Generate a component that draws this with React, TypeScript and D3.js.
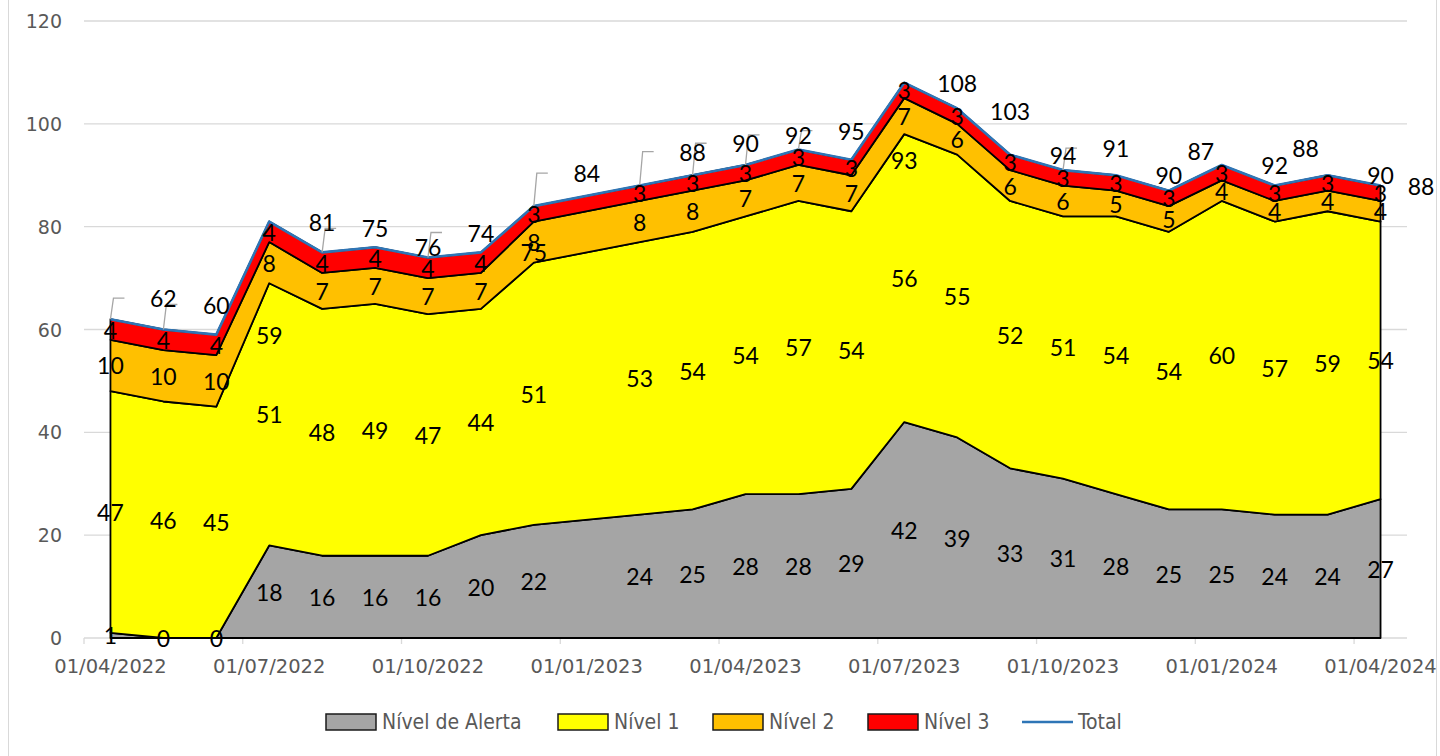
import React from "react";
import * as d3 from "d3";

const svgWidth = 1440;
const svgHeight = 756;

const margin = { top: 21, left: 84, right: 33, bottom: 118 };
const innerBottom = svgHeight - margin.bottom;
const innerRight = svgWidth - margin.right;

// data (monthly; January 2023 has no entry)
const months = [
    "2022-04-01", "2022-05-01", "2022-06-01", "2022-07-01", "2022-08-01",
    "2022-09-01", "2022-10-01", "2022-11-01", "2022-12-01", "2023-02-01",
    "2023-03-01", "2023-04-01", "2023-05-01", "2023-06-01", "2023-07-01",
    "2023-08-01", "2023-09-01", "2023-10-01", "2023-11-01", "2023-12-01",
    "2024-01-01", "2024-02-01", "2024-03-01", "2024-04-01",
];
const nivelAlerta = [1, 0, 0, 18, 16, 16, 16, 20, 22, 24, 25, 28, 28, 29, 42, 39, 33, 31, 28, 25, 25, 24, 24, 27];
const nivel1 = [47, 46, 45, 51, 48, 49, 47, 44, 51, 53, 54, 54, 57, 54, 56, 55, 52, 51, 54, 54, 60, 57, 59, 54];
const nivel2 = [10, 10, 10, 8, 7, 7, 7, 7, 8, 8, 8, 7, 7, 7, 7, 6, 6, 6, 5, 5, 4, 4, 4, 4];
const nivel3 = [4, 4, 4, 4, 4, 4, 4, 4, 3, 3, 3, 3, 3, 3, 3, 3, 3, 3, 3, 3, 3, 3, 3, 3];
const total = [62, 60, 59, 81, 75, 76, 74, 75, 84, 88, 90, 92, 95, 93, 108, 103, 94, 91, 90, 87, 92, 88, 90, 88];
const yTicks = [0, 20, 40, 60, 80, 100, 120];

const seriesNames = ["Nível de Alerta", "Nível 1", "Nível 2", "Nível 3"];
const seriesValues = [nivelAlerta, nivel1, nivel2, nivel3];
const colors = ["#A5A5A5", "#FFFF00", "#FFC000", "#FF0000"];
const totalColor = "#2E75B6";

// manual label nudges of the total labels (px), as moved in the original
const totalDy = [-21, -25, 0, 0, -24, 0, -25, 0, -33, -34, -32, -30, -19, 0, 0, 3, 0, -22, 0, -40, 0, -38, 0, 0];
const totalDx = [0, 0, 0, 0, 0, 0, 0, 0, 0, 0, 0, 0, 0, 0, 0, 0, 0, 0, 0, -21, 0, -22, 0, 0];

const parse = d3.timeParse("%Y-%m-%d");
const start = parse(months[0]);
const monthIndex = months.map((m) => d3.timeMonth.count(start, parse(m)));
const nMonths = 25;

const rows = months.map((m, i) => {
    const r = { mi: monthIndex[i] };
    seriesNames.forEach((s, k) => (r[s] = seriesValues[k][i]));
    return r;
});

const stacked = d3.stack().keys(seriesNames)(rows);

const xScale = d3.scaleLinear().domain([-0.5, nMonths - 0.5]).range([margin.left, innerRight]);
const yScale = d3.scaleLinear().domain([0, 120]).range([innerBottom, margin.top]);

const area = d3
    .area()
    .x((d) => xScale(d.data.mi))
    .y0((d) => yScale(d[0]))
    .y1((d) => yScale(d[1]));

const totalLine = d3
    .line()
    .x((d, i) => xScale(monthIndex[i]))
    .y((d) => yScale(d));

const fmtDate = d3.timeFormat("%d/%m/%Y");
const axisFont = "'DejaVu Sans', sans-serif";
const labelFont = "Lato, 'Open Sans', sans-serif";
const legendFont = "'DejaVu Sans Condensed', 'DejaVu Sans', sans-serif";

const legendItems = [
    { name: "Nível de Alerta", x: 326, color: colors[0] },
    { name: "Nível 1", x: 558, color: colors[1] },
    { name: "Nível 2", x: 713, color: colors[2] },
    { name: "Nível 3", x: 868, color: colors[3] },
];

const App = () => {
    const xTickIdx = d3.range(0, nMonths, 3);
    return (
        <svg
            width={svgWidth}
            height={svgHeight}
            style={{ position: "absolute", left: 0, top: 0, background: "#fff" }}
        >
            <rect x={8.5} y={-5} width={1428} height={svgHeight + 10} fill="#fff" stroke="#d9d9d9" />

            {/* gridlines */}
            {yTicks.map((t) => (
                <g key={t}>
                    <line
                        x1={margin.left}
                        x2={innerRight}
                        y1={yScale(t)}
                        y2={yScale(t)}
                        stroke="#d9d9d9"
                        strokeWidth={1.3}
                    />
                    <text
                        x={62}
                        y={yScale(t)}
                        textAnchor="end"
                        dominantBaseline="central"
                        fontFamily={axisFont}
                        fontSize={19}
                        fill="#595959"
                    >
                        {t}
                    </text>
                </g>
            ))}

            {/* x axis ticks */}
            {xTickIdx.map((k) => (
                <g key={k}>
                    <line
                        x1={xScale(k - 0.5)}
                        x2={xScale(k - 0.5)}
                        y1={innerBottom}
                        y2={innerBottom + 6}
                        stroke="#d9d9d9"
                        strokeWidth={1.3}
                    />
                    <text
                        x={xScale(k)}
                        y={666}
                        textAnchor="middle"
                        dominantBaseline="central"
                        fontFamily={axisFont}
                        fontSize={19.5}
                        fill="#595959"
                    >
                        {fmtDate(d3.timeMonth.offset(start, k))}
                    </text>
                </g>
            ))}

            {/* stacked areas */}
            {stacked.map((s, k) => (
                <path
                    key={s.key}
                    d={area(s) + "Z"}
                    fill={colors[k]}
                    stroke="#000"
                    strokeWidth={1.8}
                    strokeLinejoin="round"
                />
            ))}
            <path d={totalLine(total)} fill="none" stroke={totalColor} strokeWidth={2.6} strokeLinejoin="round" />

            {/* leader lines for moved total labels */}
            {total.map((v, i) => {
                if (totalDy[i] > -10 || totalDx[i] !== 0) return null;
                const px = xScale(monthIndex[i]);
                const py = yScale(v);
                const ly = py + totalDy[i];
                return (
                    <polyline
                        key={i}
                        points={`${px},${py} ${px + 3},${ly} ${px + 14},${ly}`}
                        fill="none"
                        stroke="#a6a6a6"
                        strokeWidth={1.3}
                    />
                );
            })}

            {/* series labels */}
            {stacked.map((s) =>
                s.map((d, i) => (
                    <text
                        key={s.key + i}
                        x={xScale(d.data.mi)}
                        y={yScale((d[0] + d[1]) / 2)}
                        textAnchor="middle"
                        dominantBaseline="central"
                        fontFamily={labelFont}
                        fontSize={23}
                        fill="#000"
                    >
                        {d[1] - d[0]}
                    </text>
                ))
            )}

            {/* total labels (shown one month to the right, as in the original) */}
            {total.map((v, i) => (
                <text
                    key={"t" + i}
                    x={Math.min(xScale(monthIndex[i] + 1) + totalDx[i], 1421)}
                    y={yScale(v) + totalDy[i]}
                    textAnchor="middle"
                    dominantBaseline="central"
                    fontFamily={labelFont}
                    fontSize={23}
                    fill="#000"
                >
                    {v}
                </text>
            ))}

            {/* legend */}
            {legendItems.map((l) => (
                <g key={l.name}>
                    <rect x={l.x} y={714} width={50} height={16} fill={l.color} stroke="#1a1a1a" strokeWidth={1.5} />
                    <text
                        x={l.x + 56}
                        y={722}
                        dominantBaseline="central"
                        fontFamily={legendFont}
                        fontStretch="condensed"
                        fontSize={21}
                        fill="#595959"
                    >
                        {l.name}
                    </text>
                </g>
            ))}
            <line x1={1022} x2={1073} y1={722} y2={722} stroke={totalColor} strokeWidth={2.6} />
            <text
                x={1078}
                y={722}
                dominantBaseline="central"
                fontFamily={legendFont}
                fontStretch="condensed"
                fontSize={21}
                fill="#595959"
            >
                Total
            </text>
        </svg>
    );
};

export default App;
